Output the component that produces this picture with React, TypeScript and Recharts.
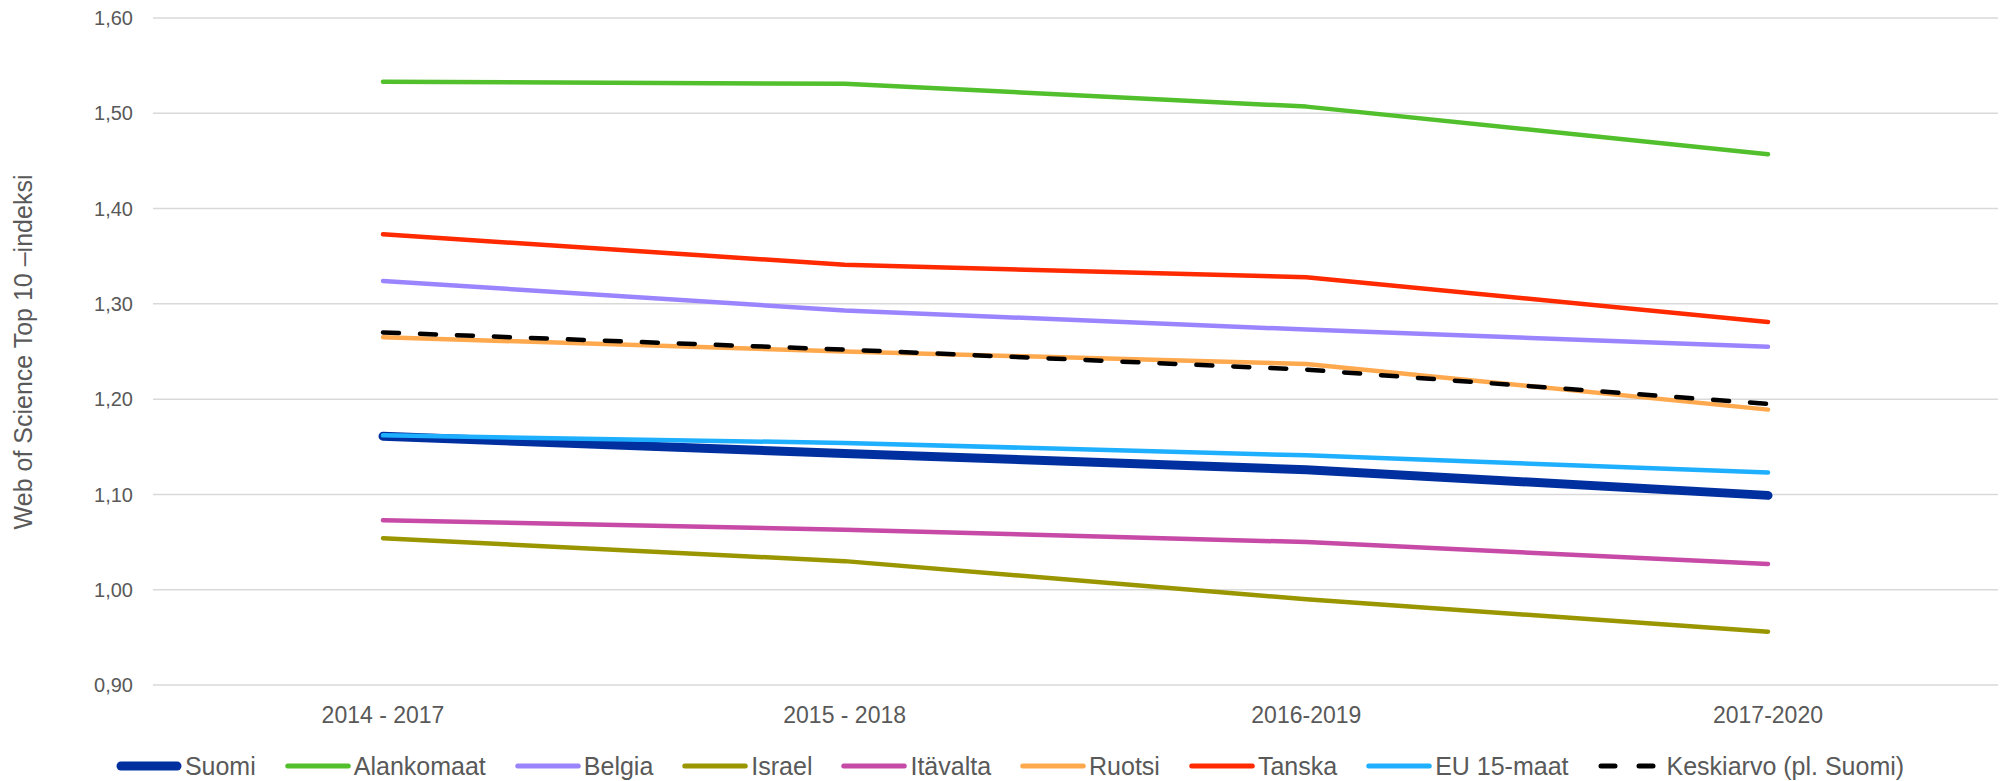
import { CartesianGrid, Label, Legend, Line, LineChart, XAxis, YAxis } from "recharts";

const periods = ["2014 - 2017", "2015 - 2018", "2016-2019", "2017-2020"];

const suomi = [1.161, 1.143, 1.126, 1.099];
const alankomaat = [1.533, 1.531, 1.507, 1.457];
const belgia = [1.324, 1.293, 1.273, 1.255];
const israel = [1.054, 1.03, 0.99, 0.956];
const itavalta = [1.073, 1.063, 1.05, 1.027];
const ruotsi = [1.265, 1.25, 1.237, 1.189];
const tanska = [1.373, 1.341, 1.328, 1.281];
const eu15 = [1.162, 1.154, 1.141, 1.123];
const keskiarvo = [1.27, 1.252, 1.231, 1.195];

const yTicks = [0.9, 1.0, 1.1, 1.2, 1.3, 1.4, 1.5, 1.6];

type Series = {
  key: string;
  name: string;
  values: number[];
  color: string;
  width: number;
  dash?: string;
};

const series: Series[] = [
  { key: "suomi", name: "Suomi", values: suomi, color: "#0030a0", width: 9 },
  { key: "alankomaat", name: "Alankomaat", values: alankomaat, color: "#52bf2c", width: 4.5 },
  { key: "belgia", name: "Belgia", values: belgia, color: "#9b85ff", width: 4.5 },
  { key: "israel", name: "Israel", values: israel, color: "#9a9600", width: 4.5 },
  { key: "itavalta", name: "Itävalta", values: itavalta, color: "#c64aa6", width: 4.5 },
  { key: "ruotsi", name: "Ruotsi", values: ruotsi, color: "#ffa94f", width: 4.5 },
  { key: "tanska", name: "Tanska", values: tanska, color: "#ff2a00", width: 4.5 },
  { key: "eu15", name: "EU 15-maat", values: eu15, color: "#1eb0ff", width: 4.5 },
  { key: "keskiarvo", name: "Keskiarvo (pl. Suomi)", values: keskiarvo, color: "#000000", width: 4.5, dash: "16 21" },
];

const data = periods.map((period, i) => {
  const row: Record<string, string | number> = { period };
  series.forEach((s) => {
    row[s.key] = s.values[i];
  });
  return row;
});

const FONT = "'Liberation Sans', Arial, sans-serif";
const TEXT = "#595959";

function ChartLegend() {
  return (
    <div
      style={{
        display: "flex",
        justifyContent: "center",
        alignItems: "center",
        height: 32,
        fontFamily: FONT,
        fontSize: 25,
        color: TEXT,
        whiteSpace: "nowrap",
      }}
    >
      {series.map((s, i) => (
        <div
          key={s.key}
          style={{ display: "flex", alignItems: "center", marginRight: i < series.length - 1 ? 29 : 0 }}
        >
          <svg width={66} height={12} style={{ marginRight: 3 }}>
            {s.dash ? (
              <line x1={3} y1={6} x2={63} y2={6} stroke={s.color} strokeWidth={5} strokeLinecap="round" strokeDasharray="14 24" />
            ) : (
              <line
                x1={s.width / 2 + 0.5}
                y1={6}
                x2={65.5 - s.width / 2}
                y2={6}
                stroke={s.color}
                strokeWidth={s.width > 5 ? 9 : 5}
                strokeLinecap="round"
              />
            )}
          </svg>
          <span>{s.name}</span>
        </div>
      ))}
    </div>
  );
}

export default function App() {
  return (
    <div style={{ position: "absolute", left: 0, top: 0, width: 2002, height: 781, background: "#fff" }}>
      <LineChart width={2002} height={781} data={data} margin={{ top: 18, right: 4, bottom: 66, left: 0 }}>
        <CartesianGrid vertical={false} stroke="#d9d9d9" strokeWidth={1.5} />
        <XAxis
          dataKey="period"
          padding={{ left: 230, right: 230 }}
          axisLine={false}
          tickLine={false}
          tickMargin={16}
          height={30}
          tick={{ fill: TEXT, fontSize: 23, fontFamily: FONT }}
          interval={0}
        />
        <YAxis
          domain={[0.9, 1.6]}
          ticks={yTicks}
          width={153}
          axisLine={false}
          tickLine={false}
          tickMargin={14}
          tickFormatter={(v: number) => v.toFixed(2).replace(".", ",")}
          tick={{ fill: TEXT, fontSize: 20, fontFamily: FONT }}
        >
          <Label
            content={() => (
              <text
                x={23}
                y={352}
                transform="rotate(-90 23 352)"
                textAnchor="middle"
                dominantBaseline="central"
                fill={TEXT}
                fontSize={25}
                fontFamily={FONT}
              >
                Web of Science Top 10 –indeksi
              </text>
            )}
          />
        </YAxis>
        <Legend
          layout="horizontal"
          verticalAlign="middle"
          align="center"
          content={() => <ChartLegend />}
          wrapperStyle={{ top: 750, left: 9, width: 2002, height: 32 }}
        />
        {series.map((s) => (
          <Line
            key={s.key}
            type="linear"
            dataKey={s.key}
            name={s.name}
            stroke={s.color}
            strokeWidth={s.width}
            strokeDasharray={s.dash}
            strokeLinecap="round"
            strokeLinejoin="round"
            dot={false}
            activeDot={false}
            isAnimationActive={false}
          />
        ))}
      </LineChart>
    </div>
  );
}
